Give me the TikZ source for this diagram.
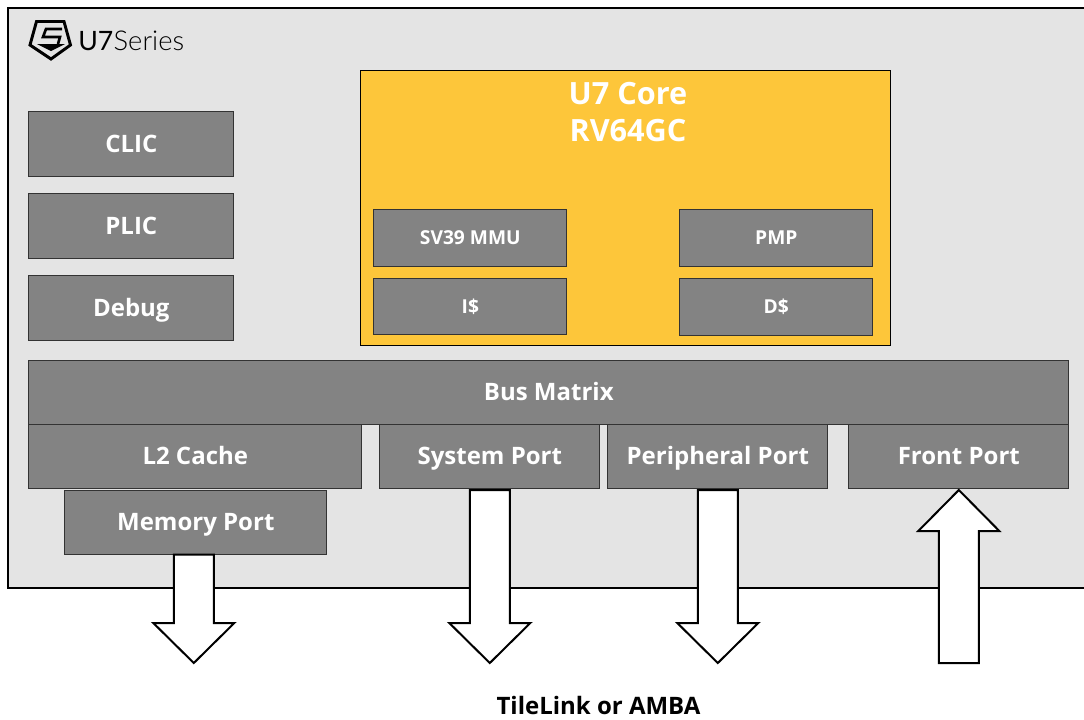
\documentclass[tikz,border=0pt]{standalone}
\usepackage{fontspec}
\setmainfont{Open Sans}
\newfontfamily\logofont{Lato}
\newfontfamily\logolight{Lato Light}
\definecolor{panel}{HTML}{E4E4E4}
\definecolor{blockgray}{HTML}{838383}
\definecolor{coregold}{HTML}{FDC63A}
\definecolor{edgegray}{HTML}{333333}
\tikzset{
  panelbox/.style={draw=black,line width=1.5pt,fill=panel},
  blockbox/.style={draw=edgegray,line width=0.75pt,fill=blockgray,text=white,font=\bfseries\fontsize{18}{22}\selectfont,inner sep=0pt,align=center,text height=13.2pt,text depth=0pt},
  smallbox/.style={blockbox,font=\bfseries\fontsize{14.4}{18}\selectfont,text height=10.4pt},
  corebox/.style={draw=black,line width=0.75pt,fill=coregold},
  blockarrow/.style={draw=black,line width=1.5pt,fill=white,miter limit=10},
}
\newcommand{\bx}[7][blockbox]{%
  \pgfmathsetmacro{\cxx}{(#3+#5)/2-0.2}\pgfmathsetmacro{\cyy}{(#4+#6)/2+0.1}%
  \pgfmathsetmacro{\wdd}{(#5-#3)*0.75}\pgfmathsetmacro{\htt}{(#6-#4)*0.75}%
  \node[#1,minimum width=\wdd pt,minimum height=\htt pt] (#2) at (\cxx,\cyy) {#7};}
\begin{document}
\begin{tikzpicture}[x=0.75pt,y=-0.75pt]
\useasboundingbox (0,0) rectangle (1084,719);
\fill[white] (0,0) rectangle (1084,719);
\path[panelbox] (7.5,7.5) rectangle (1090,588);
% logo
\draw[black,line width=2.2pt,line join=miter,fill=none] (36.5,21.5) -- (64,21.5) -- (70.5,45) -- (51,59) -- (30,45) -- cycle;
\fill[black] (37,44) -- (65,44) -- (51,51) -- cycle;
\draw[black,line width=2pt] (62,29) -- (46,29) -- (43,37) -- (60,37) -- (58,44);
\node[anchor=west,inner sep=0pt] (logo) at (78,41) {\fontsize{20}{24}\selectfont{\logofont U7}{\logolight\fontsize{20.5}{24}\selectfont\hspace{0.3pt}Series}};
% side blocks
\bx{clic}{29}{111}{234}{176}{CLIC}
\bx{plic}{29}{193}{234}{258}{PLIC}
\bx{debug}{29}{275}{234}{340}{Debug}
% core
\path[corebox] (360.5,70) rectangle (890,345);
\node[text=white,font=\bfseries\fontsize{23}{28}\selectfont,align=center,inner sep=0pt] (core) at (628,112) {U7 Core\\RV64GC};
\bx[smallbox]{mmu}{374}{209}{567}{266}{SV39 MMU}
\bx[smallbox]{pmp}{680}{209}{873}{266}{PMP}
\bx[smallbox]{icache}{374}{278}{567}{334}{I\$}
\bx[smallbox]{dcache}{680}{278}{873}{335}{D\$}
% bus
\bx{bus}{29}{360}{1069}{424}{Bus Matrix}
\bx{ltwo}{29}{424}{362}{488}{L2 Cache}
\bx{sysport}{380}{424}{600}{488}{System Port}
\bx{perport}{608}{424}{828}{488}{Peripheral Port}
\bx{frontport}{849}{424}{1069}{488}{Front Port}
\bx{memport}{65}{490}{327}{554}{Memory Port}
% arrows
\coordinate (a1) at (193.8,554.5);
\draw[blockarrow] (a1) ++(-20,0) -- ++(0,68.5) -- ++(-20.5,0) -- ++(40.5,40) -- ++(40.5,-40) -- ++(-20.5,0) -- ++(0,-68.5) -- cycle;
\coordinate (a2) at (489.8,490);
\draw[blockarrow] (a2) ++(-20,0) -- ++(0,133) -- ++(-20.5,0) -- ++(40.5,40) -- ++(40.5,-40) -- ++(-20.5,0) -- ++(0,-133) -- cycle;
\coordinate (a3) at (717.8,490);
\draw[blockarrow] (a3) ++(-20,0) -- ++(0,133) -- ++(-20.5,0) -- ++(40.5,40) -- ++(40.5,-40) -- ++(-20.5,0) -- ++(0,-133) -- cycle;
\coordinate (a4) at (958.8,490);
\draw[blockarrow] (a4) -- ++(40.5,41) -- ++(-20.5,0) -- ++(0,132) -- ++(-40,0) -- ++(0,-132) -- ++(-20.5,0) -- cycle;
\node[text=black,font=\bfseries\fontsize{18}{22}\selectfont,inner sep=0pt] (tl) at (598.5,705) {TileLink or AMBA};
\end{tikzpicture}
\end{document}
